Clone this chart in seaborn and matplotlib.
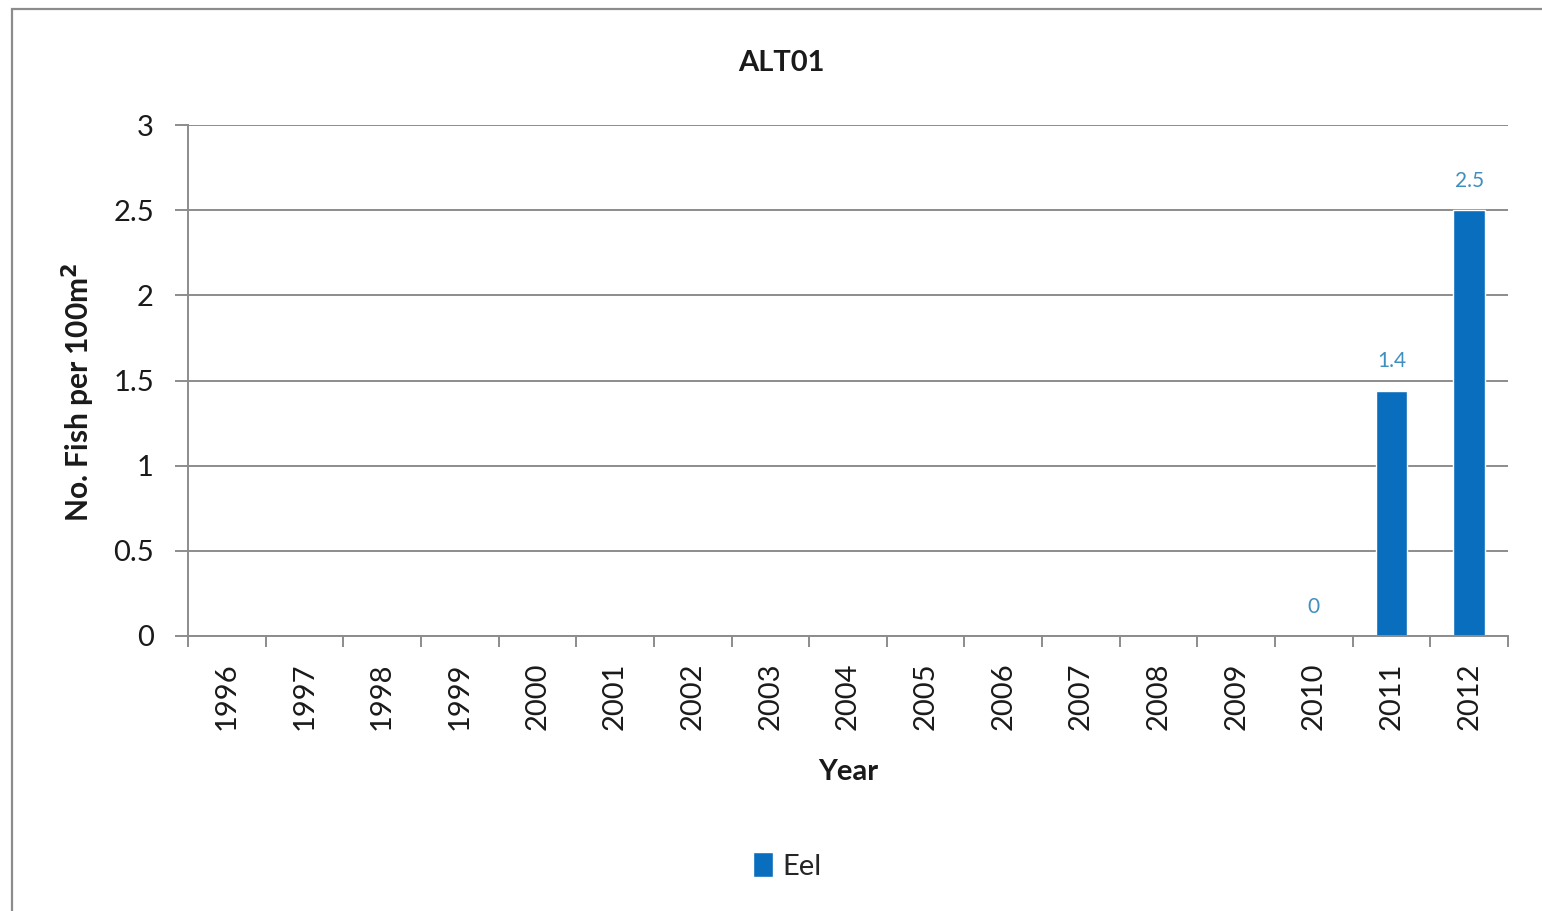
import numpy as np
import pandas as pd
import matplotlib
matplotlib.use("Agg")
import matplotlib.pyplot as plt
from matplotlib.patches import Rectangle
from matplotlib.ticker import FixedLocator
import seaborn as sns

# Eel density per survey year at site ALT01 (NaN = not surveyed)
years = [str(y) for y in range(1996, 2013)]
eel_density = [np.nan] * 14 + [0.0, 1.44, 2.5]
species = "Eel"
title = "ALT01"
y_label = "No. Fish per 100m$^{\\mathbf{2}}$"
x_label = "Year"
y_ticks = [0, 0.5, 1, 1.5, 2, 2.5, 3]

df = pd.DataFrame({"Year": years, "Density": eel_density, "Species": species})

sns.set_theme(style="white")
plt.rcParams["font.family"] = ["Lato", "DejaVu Sans"]

W, H = 1542, 911
fig = plt.figure(figsize=(W / 100, H / 100), dpi=100)
ax = fig.add_axes([188 / W, 1 - 636 / H, (1508 - 188) / W, (636 - 125) / H])

bar_blue = "#0A6EBE"
label_blue = "#3F8FBF"
grey = "#8C8C8C"
ink = "#1a1a1a"

sns.barplot(data=df, x="Year", y="Density", hue="Species", order=years,
            palette=[bar_blue], width=0.41, ax=ax, saturation=1)

ax.set_ylim(0, 3)
ax.set_xlim(-0.5, len(years) - 0.5)
ax.set_yticks(y_ticks)
ax.set_yticklabels([f"{t:g}" for t in y_ticks])
ax.yaxis.grid(True, color=grey, linewidth=1.4)
ax.set_axisbelow(True)

for s in ["top", "right"]:
    ax.spines[s].set_visible(False)
for s in ["left", "bottom"]:
    ax.spines[s].set_color(grey)
    ax.spines[s].set_linewidth(1.4)

# y ticks point outward to the left
ax.tick_params(axis="y", which="major", left=True, length=9.5, width=1.4,
               color=grey, pad=15, labelsize=21, labelcolor=ink)
# x: category labels at centres, tick marks at category boundaries
ax.tick_params(axis="x", which="major", bottom=False, length=0, pad=19,
               labelsize=21, labelcolor=ink, labelrotation=90)
ax.xaxis.set_minor_locator(FixedLocator(np.arange(-0.5, len(years), 1.0)))
ax.tick_params(axis="x", which="minor", bottom=True, length=8, width=1.4,
               color=grey)

# value labels above each surveyed year
for i, v in enumerate(eel_density):
    if np.isnan(v):
        continue
    ax.annotate(f"{v:.2g}", xy=(i, v), xytext=(0, 14), textcoords="offset points",
                ha="center", va="bottom", fontsize=15, color=label_blue)

fig.text(781 / W, 1 - 63 / H, title, fontsize=21, fontweight="bold",
         color=ink, ha="center", va="center")
ax.set_xlabel(x_label, fontsize=21, fontweight="bold", labelpad=21, color=ink)
ax.set_ylabel(y_label, fontsize=21.5, fontweight="bold", color=ink)
ax.yaxis.set_label_coords(97 / W, 1 - 392 / H, transform=fig.transFigure)

sns.move_legend(ax, "center", bbox_to_anchor=(787 / W, 1 - 866 / H),
                bbox_transform=fig.transFigure, title=None, frameon=False,
                fontsize=21, handlelength=0.7, handleheight=0.9,
                handletextpad=0.3)

# chart-area border (left and top edges fall inside the canvas)
fig.add_artist(Rectangle((12 / W, -0.05), 1.2, 1 - 9 / H + 0.05,
                         transform=fig.transFigure, fill=False,
                         edgecolor=grey, linewidth=1.6))

fig.savefig("out.png", dpi=100, facecolor="white")
